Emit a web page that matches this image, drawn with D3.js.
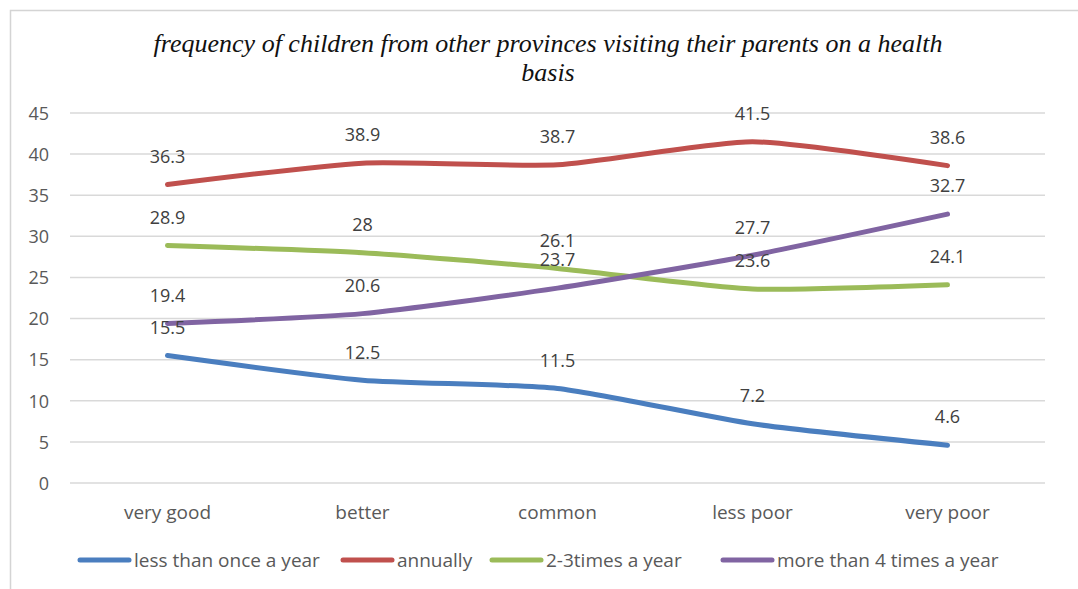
<!DOCTYPE html>
<html><head><meta charset="utf-8">
<script src="https://cdn.jsdelivr.net/npm/d3@7"></script>
<style>html,body{margin:0;padding:0;background:#fff;}svg{display:block;}</style>
</head><body>
<svg id="chart" width="1078" height="589"></svg>
<script>
const categories = ["very good", "better", "common", "less poor", "very poor"];
const seriesNames = ["less than once a year", "annually", "2-3times a year", "more than 4 times a year"];
const lessThanOnce = [15.5, 12.5, 11.5, 7.2, 4.6];
const annually = [36.3, 38.9, 38.7, 41.5, 38.6];
const twoThreeTimes = [28.9, 28, 26.1, 23.6, 24.1];
const moreThanFour = [19.4, 20.6, 23.7, 27.7, 32.7];
const yTicks = [0, 5, 10, 15, 20, 25, 30, 35, 40, 45];
const colors = ["#4A7EBF", "#C0504D", "#9BBB59", "#8064A2"];
const titleLines = ["frequency of children from other provinces visiting their parents on a health", "basis"];

const series = [lessThanOnce, annually, twoThreeTimes, moreThanFour].map((v, i) => ({name: seriesNames[i], values: v, color: colors[i]}));

const svg = d3.select("#chart");
const font = "'Open Sans', 'Noto Sans', sans-serif";

svg.append("rect").attr("x", 10.5).attr("y", 10.5).attr("width", 1100).attr("height", 600)
  .attr("fill", "none").attr("stroke", "#d4d4d4").attr("stroke-width", 1.5);

const x = d3.scaleBand().domain(categories).range([70, 1045]);
const y = d3.scaleLinear().domain([0, 45]).range([483, 113]);

// gridlines
svg.append("g").selectAll("line").data(yTicks).join("line")
  .attr("x1", 70).attr("x2", 1045)
  .attr("y1", d => y(d)).attr("y2", d => y(d))
  .attr("stroke", "#d9d9d9").attr("stroke-width", 1.5);

// y axis
const yAxis = d3.axisLeft(y).tickValues(yTicks).tickSize(0).tickPadding(0);
const gy = svg.append("g").attr("transform", "translate(49,0)").call(yAxis);
gy.select(".domain").remove();
gy.selectAll("text").attr("font-family", font).attr("font-size", 18).attr("fill", "#595959").attr("dy", "0.35em");

// x axis
const xAxis = d3.axisBottom(x).tickSize(0).tickPadding(0);
const gx = svg.append("g").attr("transform", "translate(0,512)").call(xAxis);
gx.select(".domain").remove();
gx.selectAll("text").attr("font-family", font).attr("font-size", 19).attr("fill", "#595959").attr("dy", "0.35em");

const cx = c => x(c) + x.bandwidth() / 2;
const line = d3.line().x((d, i) => cx(categories[i])).y(d => y(d)).curve(d3.curveCardinal.tension(0.4));

svg.append("g").selectAll("path").data(series).join("path")
  .attr("d", d => line(d.values)).attr("fill", "none")
  .attr("stroke", d => d.color).attr("stroke-width", 5).attr("stroke-linecap", "round").attr("stroke-linejoin", "round");

// data labels
series.forEach(s => {
  svg.append("g").selectAll("text").data(s.values).join("text")
    .attr("x", (d, i) => cx(categories[i]))
    .attr("y", d => y(d) - 28)
    .attr("dy", "0.35em")
    .attr("text-anchor", "middle")
    .attr("font-family", font).attr("font-size", 18).attr("fill", "#404040")
    .text(d => d);
});

// title
const title = svg.append("text").attr("text-anchor", "middle")
  .attr("font-family", "'Liberation Serif', 'DejaVu Serif', serif").attr("font-style", "italic")
  .attr("font-size", 22).attr("fill", "#111");
title.append("tspan").attr("x", 548).attr("y", 52).text(titleLines[0]);
title.append("tspan").attr("x", 548).attr("y", 81).text(titleLines[1]);
const t0 = title.select("tspan").node();
const w0 = t0.getComputedTextLength();
const fs = 22 * 790 / w0;
title.attr("font-size", Math.min(26, fs));

// legend
const legendPos = [80, 343, 492, 723];
const lg = svg.append("g").selectAll("g").data(series).join("g")
  .attr("transform", (d, i) => `translate(${legendPos[i]},560)`);
lg.append("line").attr("x1", 0).attr("x2", 49).attr("y1", 0).attr("y2", 0)
  .attr("stroke", d => d.color).attr("stroke-width", 5).attr("stroke-linecap", "round");
lg.append("text").attr("x", 54).attr("dy", "0.35em")
  .attr("font-family", font).attr("font-size", 19).attr("fill", "#595959")
  .text(d => d.name);
</script>
</body></html>
